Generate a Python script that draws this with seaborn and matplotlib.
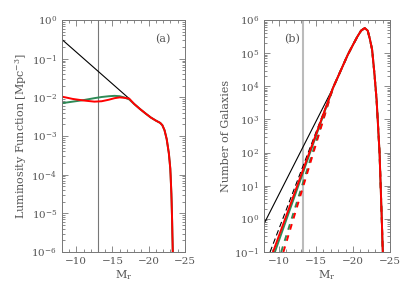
import numpy as np
import pandas as pd
import seaborn as sns
import matplotlib
matplotlib.use("Agg")
import matplotlib.pyplot as plt
from matplotlib.ticker import MultipleLocator, LogLocator

# ---- panel (a): luminosity function, log10 values ----
common_a_m = [-17.3, -18.0, -18.8, -19.6, -20.3, -21.0, -21.6, -21.9, -22.2,
              -22.5, -22.8, -23.0, -23.15, -23.25, -23.35]
common_a_log = [-2.03, -2.17, -2.30, -2.42, -2.52, -2.60, -2.66, -2.72, -2.85,
                -3.08, -3.45, -3.85, -4.5, -5.2, -6.1]

black_a_m = [-8.0, -17.3]
black_a_log = [-0.50, -2.03]

red_a_m = [-8.0, -9.5, -11.0, -12.5, -13.5, -14.5, -15.3, -16.0, -16.6, -17.3]
red_a_log = [-1.98, -2.04, -2.08, -2.11, -2.10, -2.06, -2.02, -2.00, -2.01, -2.03]

green_a_m = [-8.0, -9.5, -11.0, -12.5, -13.5, -14.5, -15.3, -16.0, -16.6, -17.3]
green_a_log = [-2.15, -2.11, -2.07, -2.02, -1.99, -1.97, -1.96, -1.97, -2.00, -2.05]

# ---- panel (b): number of galaxies ----
common_b_m = [-17.3, -18.0, -18.7, -19.3, -20.0, -20.6, -21.1, -21.6, -22.0,
              -22.3, -22.6, -22.9, -23.2, -23.6, -23.9, -24.05]
common_b_log = [3.95, 4.30, 4.65, 4.95, 5.25, 5.50, 5.68, 5.76, 5.68,
                5.42, 5.10, 4.40, 3.60, 2.00, 0.00, -1.10]

black_b_m = [-8.0, -17.3]
black_b_log = [-0.14, 3.95]
blackdash_b_m = [-8.8, -17.3]
blackdash_b_log = [-1.0, 3.95]
red_b_m = [-9.2, -17.3]
red_b_log = [-1.0, 3.95]
green_b_m = [-9.45, -17.3]
green_b_log = [-1.0, 3.95]
reddash_b_m = [-10.6, -17.3]
reddash_b_log = [-1.0, 3.95]
greendash_b_m = [-10.3, -17.3]
greendash_b_log = [-1.0, 3.95]

cut_a = -13.0
cut_b = -13.3


def full(m, lg, cm, clg):
    x = list(m) + list(cm[1:])
    y = 10 ** np.array(list(lg) + list(clg[1:]))
    return pd.DataFrame({"M": x, "v": y})


sns.set_theme(style="ticks")
plt.rcParams["font.family"] = ["DejaVu Serif"]
plt.rcParams["mathtext.fontset"] = "dejavuserif"

txt = "#555555"
RED = "#ff0000"
GREEN = "#2e8b57"

fig = plt.figure(figsize=(4.07, 2.91), dpi=100)
ax1 = fig.add_axes([0.152, 0.134, 0.302, 0.797])
ax2 = fig.add_axes([0.649, 0.134, 0.309, 0.797])


def style(ax, ylim):
    ax.set_yscale("log")
    ax.set_xlim(-8, -25)
    ax.set_ylim(*ylim)
    ax.xaxis.set_major_locator(MultipleLocator(5))
    ax.xaxis.set_minor_locator(MultipleLocator(1))
    ax.yaxis.set_major_locator(LogLocator(base=10, numticks=20))
    ax.yaxis.set_minor_locator(LogLocator(base=10, subs=np.arange(2, 10), numticks=20))
    ax.tick_params(which="both", direction="in", top=True, right=True,
                   colors="#777777", labelcolor=txt, labelsize=7.5, width=0.6)
    ax.tick_params(which="major", length=4)
    ax.tick_params(which="minor", length=2)
    for s in ax.spines.values():
        s.set_color("#777777")
        s.set_linewidth(0.7)
    ax.set_xlabel(r"M$_\mathrm{r}$", color=txt, fontsize=8, labelpad=2)


# panel (a)
ax1.axvline(cut_a, color="#777777", lw=0.8)
sns.lineplot(data=full(black_a_m, black_a_log, common_a_m, common_a_log), x="M", y="v",
             ax=ax1, color="black", lw=0.8, sort=False)
sns.lineplot(data=full(green_a_m, green_a_log, common_a_m, common_a_log), x="M", y="v",
             ax=ax1, color=GREEN, lw=1.4, sort=False)
sns.lineplot(data=full(red_a_m, red_a_log, common_a_m, common_a_log), x="M", y="v",
             ax=ax1, color=RED, lw=1.4, sort=False)
style(ax1, (1e-6, 1))
ax1.set_ylabel(r"Luminosity Function [Mpc$^{-3}$]", color=txt, fontsize=8, labelpad=2)
ax1.text(0.82, 0.92, "(a)", transform=ax1.transAxes, ha="center", va="center",
         color=txt, fontsize=8)

# panel (b)
ax2.axvline(cut_b, color="#bbbbbb", lw=1.5)
sns.lineplot(data=full(black_b_m, black_b_log, common_b_m, common_b_log), x="M", y="v",
             ax=ax2, color="black", lw=0.8, sort=False)
sns.lineplot(data=full(blackdash_b_m, blackdash_b_log, common_b_m, common_b_log), x="M", y="v",
             ax=ax2, color="black", lw=0.8, ls=(0, (5, 3)), sort=False)
sns.lineplot(data=full(greendash_b_m, greendash_b_log, common_b_m, common_b_log), x="M", y="v",
             ax=ax2, color=GREEN, lw=1.4, ls=(0, (3, 3)), sort=False)
sns.lineplot(data=full(reddash_b_m, reddash_b_log, common_b_m, common_b_log), x="M", y="v",
             ax=ax2, color=RED, lw=1.4, ls=(0, (3, 3)), sort=False)
sns.lineplot(data=full(green_b_m, green_b_log, common_b_m, common_b_log), x="M", y="v",
             ax=ax2, color=GREEN, lw=1.4, sort=False)
sns.lineplot(data=full(red_b_m, red_b_log, common_b_m, common_b_log), x="M", y="v",
             ax=ax2, color=RED, lw=1.4, sort=False)
style(ax2, (0.1, 1e6))
ax2.set_ylabel("Number of Galaxies", color=txt, fontsize=8, labelpad=2)
ax2.text(0.22, 0.92, "(b)", transform=ax2.transAxes, ha="center", va="center",
         color=txt, fontsize=8)

fig.savefig("out.png", dpi=100)
